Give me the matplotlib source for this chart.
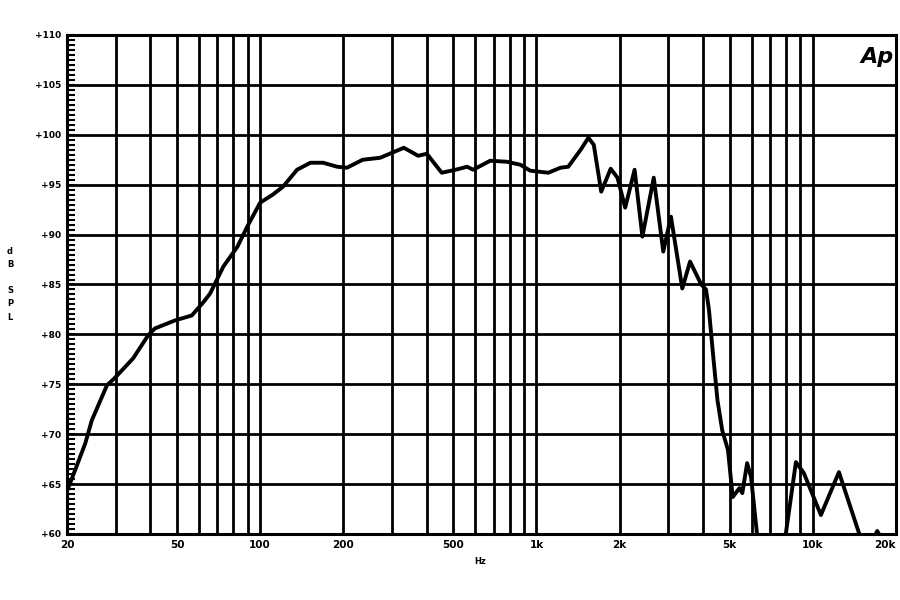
import numpy as np
import matplotlib
matplotlib.use('Agg')
import matplotlib.pyplot as plt
from matplotlib.ticker import FixedLocator, MultipleLocator, NullFormatter

# Risposta in frequenza
freq = [20, 21.4, 23.3, 24.6, 27.9, 29.7, 34.7, 39.3, 41.6, 49.2, 56.6, 62.2,
        65.9, 73.6, 82.8, 89.8, 100, 111, 121, 136, 152, 169, 190, 206,
        235, 272, 331, 373, 401, 454, 510, 561, 590, 680, 781, 874, 950,
        1104, 1221, 1303, 1445, 1541, 1612, 1715, 1856, 1964, 2094, 2265,
        2417, 2657, 2876, 3066, 3370, 3595, 3946, 4107, 4207, 4341, 4518,
        4700, 4933, 5130, 5425, 5557, 5785, 5978, 6275, 6700, 7500, 7983,
        8686, 9280, 10697, 12430, 14690, 15800, 16600, 17100, 17700, 18500]
spl = [64.3, 66.4, 69.1, 71.4, 74.9, 75.6, 77.6, 79.9, 80.6, 81.4, 81.9, 83.2,
       84.1, 86.8, 88.8, 90.8, 93.2, 94.0, 94.8, 96.5, 97.2, 97.2, 96.8, 96.7,
       97.5, 97.7, 98.7, 97.9, 98.1, 96.2, 96.5, 96.8, 96.5, 97.4, 97.3, 97.0, 96.4,
       96.2, 96.7, 96.8, 98.5, 99.7, 99.0, 94.3, 96.6, 95.7, 92.7, 96.5,
       89.8, 95.7, 88.3, 91.8, 84.6, 87.3, 85.0, 84.5, 82.5, 78.4, 73.4,
       70.4, 68.4, 63.7, 64.6, 64.1, 67.1, 65.7, 60.1, 56.0, 56.0, 60.0,
       67.2, 66.1, 61.9, 66.2, 60.1, 58.5, 59.6, 60.3, 59.6, 58.0]

x_ticks = [20, 50, 100, 200, 500, 1000, 2000, 5000, 10000, 20000]
x_labels = ['20', '50', '100', '200', '500', '1k', '2k', '5k', '10k', '20k']
y_ticks = list(range(60, 111, 5))
y_labels = ['+%d' % v for v in y_ticks]

fig = plt.figure(figsize=(9, 6), dpi=100)
ax = fig.add_axes([67/900, 1-534/600, 829/900, 499/600])

# griglia logaritmica: 20..90, 100..900, ecc.
grid_x = [m * 10**d for d in range(1, 5) for m in range(1, 10) if 20 <= m * 10**d <= 20000]
for gx in grid_x:
    ax.axvline(gx, color='k', lw=2.0, zorder=1)
for gy in y_ticks:
    ax.axhline(gy, color='k', lw=2.0, zorder=1)

ax.plot(freq, spl, color='k', lw=2.8, solid_joinstyle='round', zorder=3)

ax.set_xscale('log')
ax.set_xlim(20, 20000)
ax.set_ylim(60, 110)
ax.xaxis.set_major_locator(FixedLocator(x_ticks))
ax.set_xticklabels(x_labels)
ax.xaxis.set_minor_locator(FixedLocator([]))
ax.xaxis.set_minor_formatter(NullFormatter())
ax.set_yticks(y_ticks)
ax.set_yticklabels(y_labels)
ax.yaxis.set_minor_locator(MultipleLocator(0.5))
ax.tick_params(axis='x', length=0, pad=4, labelsize=7.5)
ax.tick_params(axis='y', which='major', direction='in', length=6, width=1.5, pad=4, labelsize=6.5)
ax.tick_params(axis='y', which='minor', direction='in', length=6, width=1.5)
for lbl in ax.get_xticklabels() + ax.get_yticklabels():
    lbl.set_fontweight('bold')
ax.get_xticklabels()[-1].set_horizontalalignment('right')
for s in ax.spines.values():
    s.set_linewidth(2.2)

fig.text(480/900, 1-561/600, 'Hz', ha='center', va='center', fontsize=6, fontweight='bold')
fig.text(10/900, 1-284/600, 'd\nB\n\nS\nP\nL', ha='center', va='center',
         fontsize=6, fontweight='bold', linespacing=1.6)
ax.text(0.997, 0.975, 'Ap', transform=ax.transAxes, ha='right', va='top',
        fontsize=16, fontweight='bold', style='italic')

fig.savefig('out.png', dpi=100)
